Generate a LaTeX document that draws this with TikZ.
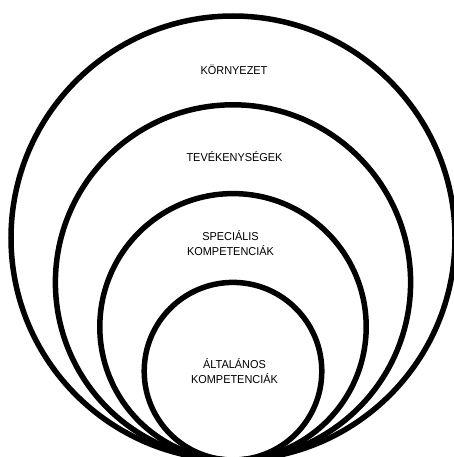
\documentclass[tikz,border=0pt]{standalone}
\usepackage{fontspec}
\setmainfont{Liberation Sans}[FakeStretch=0.95]
\usetikzlibrary{positioning}
\definecolor{ringline}{HTML}{000000}

\begin{document}
\begin{tikzpicture}[x=1pt, y=-1pt, font=\fontsize{11.5}{15}\selectfont,
  ring/.style={draw=ringline, line width=5.5pt, circle, inner sep=0pt, outer sep=0pt},
  lbl/.style={align=center, inner sep=0pt}]
\useasboundingbox[fill=white] (0,0) rectangle (453,457);
% nested circles, all touching at the bottom
\node[ring, minimum size=444pt] (env) at (233,238) {};
\node[ring, minimum size=355.2pt] (act) at (233,282.4) {};
\node[ring, minimum size=266.4pt] (spec) at (233,326.8) {};
\node[ring, minimum size=177.6pt] (gen) at (233,371.2) {};
% labels
\node[lbl] (envlbl) at (234,69.5) {KÖRNYEZET};
\node[lbl] (actlbl) at (234.5,157) {TEVÉKENYSÉGEK};
\node[lbl] (speclbl) at (230.5,243) {SPECIÁLIS\\KOMPETENCIÁK};
\node[lbl] (genlbl) at (234.5,371) {ÁLTALÁNOS\\KOMPETENCIÁK};
\end{tikzpicture}
\end{document}
